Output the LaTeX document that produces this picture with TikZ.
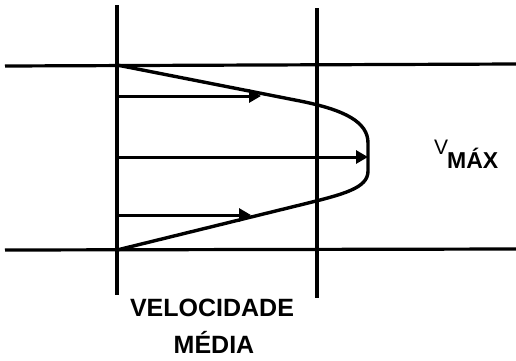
\documentclass[tikz,border=0pt]{standalone}
\usepackage{fontspec}
\setmainfont{Liberation Sans}
\usetikzlibrary{arrows.meta}
\begin{document}
\begin{tikzpicture}[x=1pt,y=-1pt,
  wall/.style={line width=3.2pt},
  prof/.style={line width=3.4pt, line join=round},
  vec/.style={line width=3pt,-{Triangle[length=12pt,width=13pt]}},
  lbl/.style={font=\fontsize{25}{28}\selectfont\bfseries, inner sep=0pt}]
\useasboundingbox (0,0) rectangle (516,360);
% walls and sections
\coordinate (tl) at (5,66);  \coordinate (tr) at (516,64);
\coordinate (bl) at (5,250); \coordinate (br) at (516,249);
\coordinate (lt) at (117,5); \coordinate (lb) at (117,295);
\coordinate (rt) at (317,8); \coordinate (rb) at (317,298);
\draw[wall] (tl) -- (tr);
\draw[wall] (bl) -- (br);
\draw[wall] (lt) -- (lb);
\draw[wall] (rt) -- (rb);
% profile
\coordinate (p0) at (117,65);
\coordinate (p1) at (300,101);
\coordinate (p2) at (368,143);
\coordinate (p3) at (368,171);
\coordinate (p4) at (300,205);
\coordinate (p5) at (117,250);
\draw[prof] (p0) -- (p1) .. controls (345,110) and (368,122) .. (p2) -- (p3) .. controls (368,188) and (345,194) .. (p4) -- (p5);
% velocity vectors
\coordinate (a1s) at (117,96);  \coordinate (a1e) at (261,96);
\coordinate (a2s) at (117,157); \coordinate (a2e) at (368,157);
\coordinate (a3s) at (117,215); \coordinate (a3e) at (251,215);
\draw[vec] (a1s) -- (a1e);
\draw[vec] (a2s) -- (a2e);
\draw[vec] (a3s) -- (a3e);
% labels
\node[inner sep=0pt, font=\fontsize{21}{24}\selectfont, anchor=west] (v) at (434,147) {V};
\node[inner sep=0pt, font=\fontsize{23}{26}\selectfont\bfseries, anchor=west] (vm) at (447,158) {MÁX};
\node[lbl] (vel) at (212,308) {VELOCIDADE};
\node[lbl] (med) at (214,342) {MÉDIA};
\end{tikzpicture}
\end{document}
